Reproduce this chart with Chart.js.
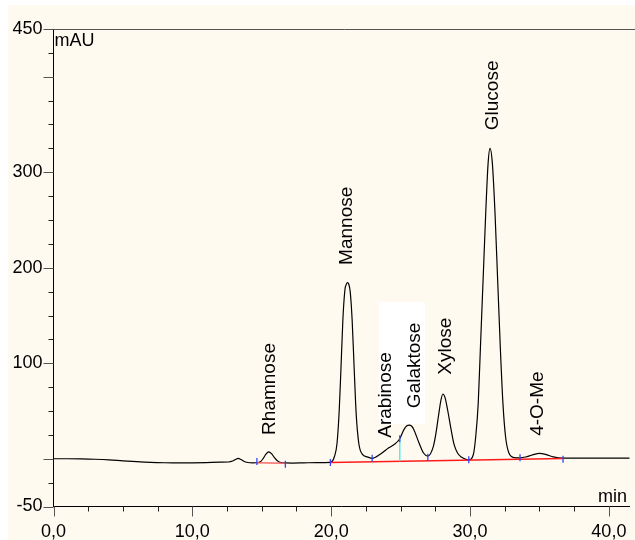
<!DOCTYPE html>
<html><head><meta charset="utf-8">
<script src="https://cdn.jsdelivr.net/npm/chart.js@4.4.1/dist/chart.umd.min.js"></script>
<style>html,body{margin:0;padding:0;background:#fff;}#wrap{width:635px;height:540px;position:relative}</style>
</head><body><div id="wrap"><canvas id="c" width="635" height="540"></canvas></div>
<script>
// Retention time (min) and detector signal (mAU)
const times = [0,1,2,3,4,5,6,7,8,9,10,11,12,12.6,12.9,13.1,13.3,13.5,13.7,14.0,14.3,14.65,14.9,15.1,15.3,15.5,15.7,15.9,16.1,16.3,16.7,17.2,18,19,19.94,20.23,20.42,20.58,20.70,20.84,20.99,21.1,21.18,21.26,21.37,21.51,21.66,21.80,21.99,22.25,22.6,22.95,23.56,24.15,24.63,24.94,25.22,25.45,25.63,25.8,25.94,26.3,26.65,26.96,27.36,27.55,27.73,27.9,28.04,28.2,28.4,28.63,28.85,29.1,29.4,29.7,29.91,30.23,30.41,30.59,30.75,30.94,31.13,31.30,31.44,31.61,31.80,31.99,32.18,32.37,32.56,32.8,33.2,33.6,34.0,34.5,35.0,35.5,36.0,36.7,37.5,39,41.5];
const signal = [0,0,-0.1,-0.5,-1.2,-2.2,-3.1,-3.8,-4.2,-4.4,-4.3,-4.0,-3.6,-3.4,-2.4,-0.8,0.3,-0.8,-2.6,-3.9,-4.3,-4.2,-3.2,0.2,4.8,7.3,5.4,1.4,-1.8,-3.6,-4.4,-4.5,-4.3,-4.0,-3.8,2.1,16,51,93,145,177,183,184.4,183,175,145,93,47,16,4.6,2.0,0.4,5.0,11.5,16,21,30,34.5,35.3,34,31,17.5,6,2.8,13,27,45,61,67.8,64,50,31,15,6,1.5,-0.6,-1.2,3.9,23,58,117,187,257,309,325,309,257,187,117,58,23,6,1.2,1.0,1.8,4.0,5.6,4.3,2.0,0.7,0.7,0.7,0.7];

// Peak names and where their labels sit (time, mAU at the label start)
const peakNames = ['Rhamnose','Mannose','Arabinose','Galaktose','Xylose','Glucose','4-O-Me'];
const labelTimes = [15.6,21.15,23.95,26.0,28.25,31.65,34.85];
const labelLevels = [25,203,22,53,88,344,24];

// Integration baselines
const rhamBaseT = [14.65,16.7];
const rhamBaseV = [-4.2,-4.6];
const mainBaseT = [19.94,36.7];
const mainBaseV = [-3.8,0.3];
// Drop line between Arabinose and Galaktose
const dropT = [24.94,24.94];
const dropV = [-2.6,21];
// Peak start/end markers
const markerTimes = [14.65,16.7,19.94,22.95,24.94,26.96,29.91,33.6,36.7];
const markerValues = [-3,-5.8,-3.8,0.4,21,1.5,-1,1,-0.5];

// Axis ticks
const yTickValues = [-50,-25,0,25,50,75,100,125,150,175,200,225,250,275,300,325,350,375,400,425,450];
const yLabelValues = [450,300,200,100,-50];
const xTickValues = [0,2.5,5,7.5,10,12.5,15,17.5,20,22.5,25,27.5,30,32.5,35,37.5,40];
const xLabelValues = [0,10,20,30,40];

const FONT = '"Liberation Sans", Arial, sans-serif';
const pts = (xs, ys) => xs.map((x,i)=>({x, y: ys[i]}));

const decor = {
  id:'decor',
  beforeDraw(chart){
    const ctx = chart.ctx;
    ctx.save();
    ctx.fillStyle = '#ffffff';
    ctx.fillRect(0,0,chart.width,chart.height);
    ctx.fillStyle = '#FFFAF0';
    ctx.fillRect(8,5,chart.width-8,chart.height-5);
    ctx.restore();
  },
  afterDatasetsDraw(chart){
    const ctx = chart.ctx, xs = chart.scales.x, ys = chart.scales.y;
    ctx.save();
    // white label box behind Galaktose
    const bx1 = xs.getPixelForValue(23.45), bx2 = xs.getPixelForValue(26.75);
    const by1 = ys.getPixelForValue(164), by2 = ys.getPixelForValue(36.4);
    ctx.fillStyle = '#ffffff';
    ctx.fillRect(bx1, by1, bx2-bx1, by2-by1);
    // peak labels
    ctx.fillStyle = '#000';
    ctx.font = '19px ' + FONT;
    ctx.textAlign = 'left';
    ctx.textBaseline = 'middle';
    peakNames.forEach((n,i)=>{
      ctx.save();
      ctx.translate(xs.getPixelForValue(labelTimes[i]), ys.getPixelForValue(labelLevels[i]));
      ctx.rotate(-Math.PI/2);
      ctx.fillText(n,0,0);
      ctx.restore();
    });
    ctx.restore();
  },
  afterDraw(chart){
    const ctx = chart.ctx, xs = chart.scales.x, ys = chart.scales.y, a = chart.chartArea;
    ctx.save();
    ctx.strokeStyle = '#555';
    ctx.lineWidth = 1;
    ctx.beginPath();
    ctx.moveTo(a.left, Math.round(a.top)+0.5);
    ctx.lineTo(chart.width, Math.round(a.top)+0.5);
    ctx.stroke();
    yTickValues.forEach(v=>{
      const major = (v%100===0) || v===450 || v===-50;
      const py = Math.round(ys.getPixelForValue(v))+0.5;
      ctx.strokeStyle = major ? '#555' : '#222';
      ctx.beginPath();
      ctx.moveTo(a.left - (major?10:5), py);
      ctx.lineTo(a.left, py);
      ctx.stroke();
    });
    xTickValues.forEach(t=>{
      const major = t%10===0;
      const px = Math.round(xs.getPixelForValue(t))+0.5;
      ctx.strokeStyle = major ? '#555' : '#222';
      ctx.beginPath();
      ctx.moveTo(px, a.bottom);
      ctx.lineTo(px, a.bottom + (major?10:5));
      ctx.stroke();
    });
    ctx.fillStyle = '#000';
    ctx.font = '18px ' + FONT;
    ctx.textBaseline = 'alphabetic';
    ctx.textAlign = 'left';
    ctx.fillText('mAU', a.left+1, a.top+17);
    ctx.textAlign = 'right';
    ctx.fillText('min', 627, a.bottom-5);
    ctx.restore();
  }
};

new Chart(document.getElementById('c'), {
  type:'scatter',
  data:{
    datasets:[
      {data: pts(times, signal), showLine:true, borderColor:'#000', borderWidth:1.2, pointRadius:0, cubicInterpolationMode:'monotone', order:4},
      {data: pts(rhamBaseT, rhamBaseV), showLine:true, borderColor:'rgba(245,90,90,0.9)', borderWidth:1.5, pointRadius:0, order:3},
      {data: pts(mainBaseT, mainBaseV), showLine:true, borderColor:'#ff1a1a', borderWidth:1.5, pointRadius:0, order:3},
      {data: pts(dropT, dropV), showLine:true, borderColor:'#5fe8e8', borderWidth:1.5, pointRadius:0, order:2},
      {data: pts(markerTimes, markerValues), showLine:false, pointStyle:'line', rotation:90, pointRadius:3.5, borderColor:'#3344ff', borderWidth:1.3, order:1}
    ]
  },
  options:{
    responsive:false, devicePixelRatio:1, animation:false,
    layout:{padding:{top:29, left:0, right:0, bottom:0}},
    plugins:{legend:{display:false}, tooltip:{enabled:false}},
    scales:{
      x:{type:'linear', min:0, max:41.5,
        afterFit(s){ s.height = 33.5; },
        afterBuildTicks(s){ s.ticks = xLabelValues.map(v=>({value:v})); },
        border:{display:true, color:'#000', width:1},
        grid:{display:true, drawOnChartArea:false, drawTicks:true, tickLength:10, tickColor:'rgba(0,0,0,0)'},
        ticks:{autoSkip:false, maxRotation:0, padding:5, color:'#000', font:{family:FONT, size:18},
          callback:(v)=> v.toFixed(1).replace('.',',')}
      },
      y:{type:'linear', min:-50, max:450,
        afterFit(s){ s.width = 53.5; },
        afterBuildTicks(s){ s.ticks = yLabelValues.map(v=>({value:v})); },
        border:{display:true, color:'#000', width:1},
        grid:{display:true, drawOnChartArea:false, drawTicks:true, tickLength:10, tickColor:'rgba(0,0,0,0)'},
        ticks:{autoSkip:false, padding:1, color:'#000', font:{family:FONT, size:18},
          callback:(v)=> String(v)}
      }
    }
  },
  plugins:[decor]
});
</script></body></html>
